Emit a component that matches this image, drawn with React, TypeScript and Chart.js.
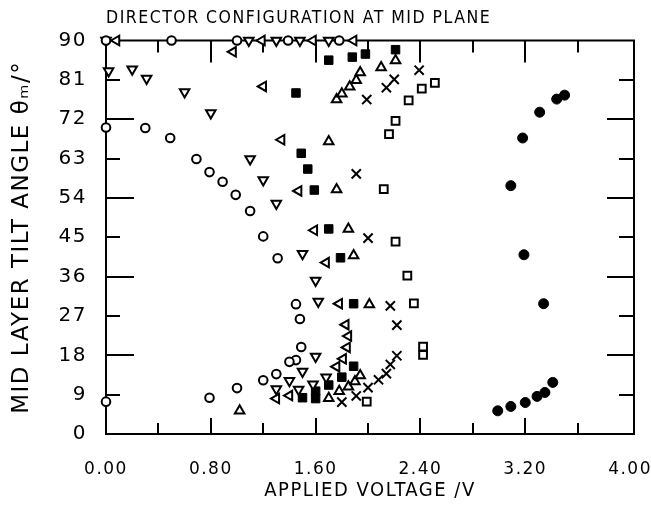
import React, { useEffect, useRef } from "react";
import { Chart, registerables } from "chart.js";

Chart.register(...registerables);

// ---- data: applied voltage (V) and mid-layer tilt angle (deg) ----
const openCircleV = [0.0, 0.5, 1.0, 1.39, 1.78, 0.0, 0.3, 0.49, 0.69, 0.79, 0.89, 0.99, 1.1, 1.2, 1.31, 1.45, 1.48, 1.49, 1.45, 1.4, 1.3, 1.2, 1.0, 0.79, 0.0];
const openCircleTheta = [90, 90, 90, 90, 90, 70.1, 70.0, 67.7, 62.9, 59.9, 57.7, 54.7, 51.0, 45.2, 40.2, 29.7, 26.3, 19.9, 16.9, 16.5, 13.7, 12.3, 10.5, 8.3, 7.4];

const downTriV = [0.0, 1.09, 1.3, 1.48, 1.7, 0.02, 0.2, 0.31, 0.6, 0.8, 1.1, 1.2, 1.3, 1.5, 1.6, 1.62, 1.6, 1.5, 1.4, 1.3, 1.47, 1.58, 1.68];
const downTriTheta = [90, 90, 90, 90, 90, 83.0, 83.4, 81.3, 78.2, 73.4, 62.9, 58.1, 52.7, 41.2, 35.1, 30.3, 17.7, 14.3, 12.2, 10.3, 10.2, 11.4, 13.0];

const leftTriV = [0.08, 1.19, 1.58, 1.89, 0.97, 1.2, 1.34, 1.47, 1.59, 1.68, 1.78, 1.83, 1.85, 1.84, 1.81, 1.76, 1.3, 1.4];
const leftTriTheta = [90, 90, 90, 90, 87.4, 79.5, 67.3, 55.6, 46.6, 39.2, 29.8, 25.0, 22.4, 19.8, 17.2, 15.4, 8.1, 8.8];

const filledSquareV = [1.45, 1.7, 1.88, 1.98, 2.21, 1.49, 1.54, 1.59, 1.7, 1.79, 1.89, 1.89, 1.8, 1.7, 1.6, 1.6, 1.5];
const filledSquareTheta = [78.0, 85.5, 86.2, 86.9, 87.9, 64.2, 60.6, 55.8, 46.9, 40.3, 29.8, 15.5, 13.0, 11.2, 9.8, 8.1, 8.3];

const upTriV = [1.02, 1.7, 1.78, 1.85, 1.9, 1.94, 2.01, 1.89, 1.85, 1.76, 1.7, 1.76, 1.8, 1.86, 1.91, 1.94, 2.1, 2.21];
const upTriTheta = [5.3, 8.2, 9.8, 10.8, 12.0, 13.4, 29.6, 40.8, 46.9, 55.9, 66.9, 76.5, 77.8, 79.4, 80.9, 82.7, 83.8, 85.4];

const crossV = [2.39, 2.2, 2.14, 1.99, 1.91, 2.0, 2.17, 2.22, 2.22, 2.17, 2.14, 2.08, 2.0, 1.91, 1.8];
const crossTheta = [83.2, 81.1, 79.2, 76.5, 59.5, 44.8, 29.3, 24.9, 17.9, 15.9, 13.8, 12.4, 10.6, 8.7, 7.3];

const openSquareV = [2.51, 2.41, 2.31, 2.21, 2.16, 2.12, 2.21, 2.3, 2.35, 2.42, 2.42, 1.99];
const openSquareTheta = [80.3, 79.0, 76.3, 71.6, 68.6, 56.0, 44.0, 36.2, 29.9, 20.0, 18.1, 7.4];

const filledCircleV = [2.99, 3.09, 3.2, 3.29, 3.35, 3.41, 3.34, 3.19, 3.09, 3.18, 3.31, 3.44, 3.5];
const filledCircleTheta = [5.3, 6.3, 7.2, 8.6, 9.5, 11.8, 29.8, 41.0, 56.8, 67.7, 73.6, 76.6, 77.5];

const xTickLabelStep = 0.8;
const xMinorStep = 0.4;
const yStep = 9;

const chartTitle = "DIRECTOR CONFIGURATION AT MID PLANE";
const xTitle = "APPLIED VOLTAGE /V";
const yTitle = "MID LAYER TILT ANGLE θₘ/°";

const SANS = '"DejaVu Sans", "Liberation Sans", sans-serif';
const COND = '"DejaVu Sans Condensed", "Liberation Sans Narrow", "DejaVu Sans", sans-serif';

function zip(xs: number[], ys: number[]) {
  return xs.map((x, i) => ({ x, y: ys[i] }));
}

const lettering = {
  id: "lettering",
  beforeDraw(chart: any) {
    chart.ctx.letterSpacing = "1.5px";
  },
  afterDraw(chart: any) {
    chart.ctx.letterSpacing = "0px";
  },
};

const frameTicks = {
  id: "frameTicks",
  beforeDatasetsDraw(chart: any) {
    const { ctx, chartArea } = chart;
    const xs = chart.scales.x;
    const ys = chart.scales.y;
    const { left, right, top, bottom } = chartArea;
    ctx.save();
    ctx.strokeStyle = "#000";
    ctx.lineWidth = 2;
    ctx.strokeRect(left, top, right - left, bottom - top);
    ctx.beginPath();
    for (let i = 1; i * xMinorStep < 3.9; i++) {
      const v = i * xMinorStep;
      const major = i % 2 === 0;
      const px = Math.round(xs.getPixelForValue(v));
      ctx.moveTo(px, bottom);
      ctx.lineTo(px, bottom - (major ? 16 : 11));
      ctx.moveTo(px, top);
      ctx.lineTo(px, top + (major ? 22 : 12));
    }
    for (let j = 1; j * yStep < 90; j++) {
      const v = j * yStep;
      const major = j % 2 === 0;
      const py = Math.round(ys.getPixelForValue(v));
      ctx.moveTo(left, py);
      ctx.lineTo(left + (major ? 28 : 14), py);
      ctx.moveTo(right, py);
      ctx.lineTo(right - (major ? 27 : 15), py);
    }
    ctx.stroke();
    ctx.restore();
  },
};

function openStyle(style: string, radius: number, rotation = 0) {
  return {
    pointStyle: style,
    pointRadius: radius,
    pointRotation: rotation,
    pointBorderWidth: 2,
    pointBorderColor: "#000",
    pointBackgroundColor: "#fff",
    clip: false as any,
  };
}
function filledStyle(style: string, radius: number) {
  return {
    pointStyle: style,
    pointRadius: radius,
    pointBorderWidth: 1,
    pointBorderColor: "#000",
    pointBackgroundColor: "#000",
    clip: false as any,
  };
}

export default function App() {
  const ref = useRef<HTMLCanvasElement>(null);
  useEffect(() => {
    if (!ref.current) return;
    const chart = new Chart(ref.current, {
      type: "scatter",
      data: {
        datasets: [
          { label: "open circle", data: zip(openCircleV, openCircleTheta), ...openStyle("circle", 4.3) },
          { label: "down triangle", data: zip(downTriV, downTriTheta), ...openStyle("triangle", 5.5, 180) },
          { label: "left triangle", data: zip(leftTriV, leftTriTheta), ...openStyle("triangle", 5.5, 270) },
          { label: "filled square", data: zip(filledSquareV, filledSquareTheta), ...filledStyle("rect", 6) },
          { label: "up triangle", data: zip(upTriV, upTriTheta), ...openStyle("triangle", 5.5, 0) },
          { label: "cross", data: zip(crossV, crossTheta), ...openStyle("crossRot", 6.5) },
          { label: "open square", data: zip(openSquareV, openSquareTheta), ...openStyle("rect", 5.5) },
          { label: "filled circle", data: zip(filledCircleV, filledCircleTheta), ...filledStyle("circle", 5) },
        ] as any,
      },
      options: {
        responsive: false,
        animation: false,
        events: [],
        layout: { padding: { left: 0, right: 17, top: 0, bottom: 0 } },
        plugins: {
          legend: { display: false },
          tooltip: { enabled: false },
          title: {
            display: true,
            text: chartTitle,
            align: "start",
            fullSize: false,
            color: "#000",
            font: { family: COND, size: 17.5, weight: "normal", lineHeight: 1 },
            padding: { top: 10, bottom: 13 },
          },
        },
        scales: {
          x: {
            type: "linear",
            min: 0,
            max: 4.03,
            afterFit: (s: any) => {
              s.height = 82;
              s.paddingLeft = 0;
              s.paddingRight = 0;
            },
            grid: { display: false },
            border: { display: false },
            ticks: {
              stepSize: xMinorStep,
              includeBounds: false,
              autoSkip: false,
              maxRotation: 0,
              minRotation: 0,
              padding: 17,
              color: "#000",
              font: { family: SANS, size: 17 },
              callback: (v: any) => {
                const n = Number(v);
                const r = n / xTickLabelStep;
                return Math.abs(r - Math.round(r)) < 1e-6 ? n.toFixed(2) : "";
              },
            },
            title: {
              display: true,
              text: xTitle,
              color: "#000",
              font: { family: COND, size: 20, lineHeight: 1 },
              padding: { top: 0, bottom: 15 },
            },
          },
          y: {
            type: "linear",
            min: 0,
            max: 90,
            afterFit: (s: any) => {
              s.width = 106;
            },
            grid: { display: false },
            border: { display: false },
            ticks: {
              stepSize: yStep,
              autoSkip: false,
              padding: 11,
              color: "#000",
              font: { family: SANS, size: 20 },
            },
            title: {
              display: true,
              text: yTitle,
              color: "#000",
              font: { family: SANS, size: 23, lineHeight: 1 },
              padding: { top: 11, bottom: 0 },
            },
          },
        },
      } as any,
      plugins: [lettering, frameTicks],
    });
    return () => chart.destroy();
  }, []);
  return (
    <div style={{ position: "absolute", left: 0, top: 0, width: 651, height: 516, background: "#fff" }}>
      <canvas ref={ref} width={651} height={516} style={{ width: 651, height: 516, display: "block" }} />
    </div>
  );
}
